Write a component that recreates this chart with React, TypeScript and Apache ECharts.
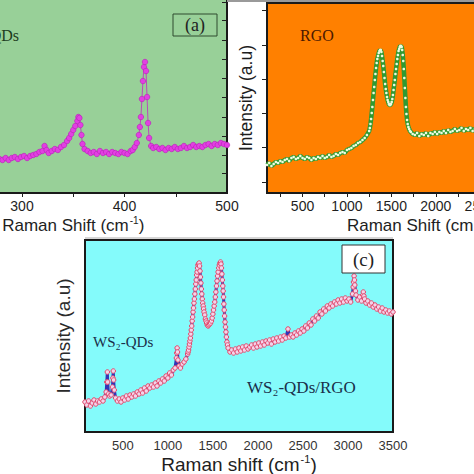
import React, { useEffect, useRef } from "react";
import * as echarts from "echarts";

// ---------- data (Raman shift in cm^-1, intensity in a.u.) ----------
const ws2QdsSpectrum: [number, number][] = [
  [272, 33], [275, 32], [278, 34], [281, 33], [284, 35], [287, 33], [290, 35], [293, 36], [296, 34], [299, 36],
  [302, 37], [305, 35], [308, 37], [311, 38], [314, 39], [317, 41], [320, 42], [322, 47], [324, 43], [326, 40],
  [329, 42], [332, 44], [335, 43], [338, 46], [341, 48], [344, 52], [346, 55], [348, 59], [350, 63], [352, 67],
  [354, 72], [355, 76], [356, 75], [357, 68], [358, 58], [359, 49], [361, 44], [364, 42], [367, 40], [370, 41],
  [373, 39], [376, 42], [379, 40], [382, 41], [385, 39], [388, 41], [391, 40], [394, 39], [397, 41], [400, 40],
  [403, 39], [406, 42], [408, 43], [410, 46], [412, 50], [414, 58], [415, 66], [416, 76], [417, 94], [418, 112],
  [419, 126], [420, 131], [421, 122], [422, 96], [423, 70], [424, 55], [426, 47], [428, 45], [431, 46], [434, 44],
  [437, 45], [440, 43], [443, 45], [446, 44], [449, 46], [452, 44], [455, 45], [458, 47], [461, 45], [464, 46],
  [467, 48], [470, 46], [473, 47], [476, 46], [479, 48], [482, 49], [485, 47], [488, 49], [491, 48], [494, 50],
  [497, 49], [500, 48],
];

const rgoSpectrum: [number, number][] = [
  [100, 28], [125, 30], [150, 27], [175, 29], [200, 31], [225, 30], [250, 32], [275, 31], [300, 33], [325, 34],
  [350, 32], [375, 35], [400, 36], [425, 34], [450, 35], [475, 37], [500, 35], [525, 34], [550, 36], [575, 35],
  [600, 33], [625, 35], [650, 34], [675, 36], [700, 35], [725, 37], [750, 35], [775, 36], [800, 38], [825, 36],
  [850, 37], [875, 39], [900, 38], [925, 40], [950, 41], [975, 40], [1000, 43], [1025, 44], [1050, 45], [1075, 47],
  [1100, 48], [1125, 50], [1150, 51], [1175, 53], [1200, 55], [1225, 58], [1250, 62], [1258, 65], [1265, 69], [1272, 74],
  [1279, 80], [1286, 86], [1293, 93], [1300, 100], [1307, 106], [1314, 113], [1321, 119], [1328, 125], [1335, 130], [1342, 134],
  [1350, 137], [1358, 140], [1366, 142], [1374, 143], [1381, 143], [1388, 141], [1395, 137], [1402, 132], [1409, 127], [1416, 121],
  [1423, 115], [1430, 109], [1437, 104], [1444, 100], [1451, 96], [1458, 93], [1465, 91], [1472, 89], [1480, 88], [1488, 88],
  [1496, 89], [1504, 91], [1511, 94], [1518, 98], [1525, 103], [1532, 108], [1539, 113], [1546, 119], [1553, 124], [1560, 129],
  [1567, 134], [1574, 138], [1581, 142], [1588, 144], [1595, 146], [1602, 147], [1609, 147], [1616, 146], [1622, 143], [1628, 138],
  [1634, 132], [1640, 124], [1646, 115], [1652, 105], [1658, 95], [1664, 86], [1670, 79], [1677, 73], [1684, 69], [1692, 66],
  [1700, 64], [1710, 62], [1720, 61], [1740, 59], [1765, 58], [1790, 60], [1815, 57],
  [1840, 59], [1865, 58], [1890, 60], [1915, 57], [1940, 60], [1965, 59], [1990, 61], [2015, 59], [2040, 61], [2065, 60],
  [2090, 62], [2115, 60], [2140, 63], [2165, 61], [2190, 62], [2215, 64], [2240, 62], [2265, 63], [2290, 65], [2315, 62],
  [2340, 64], [2365, 63], [2390, 65], [2415, 62], [2440, 64], [2465, 63], [2490, 65], [2515, 63], [2540, 64], [2600, 62],
  [2650, 65], [2700, 63], [2750, 64], [2800, 66], [2850, 64], [2900, 65], [2950, 63], [3000, 65], [3100, 64], [3200, 66],
  [3300, 64], [3400, 65], [3500, 64],
];

const compositeSpectrum: [number, number][] = [
  [80, 30], [100, 27], [120, 31], [140, 26], [160, 29], [180, 32], [200, 28], [220, 31], [240, 30], [260, 33],
  [280, 31], [300, 35], [315, 40], [322, 50], [328, 60], [332, 50], [340, 38], [355, 36], [370, 37], [385, 45],
  [390, 54], [394, 61], [398, 52], [405, 42], [420, 34], [440, 31], [460, 33], [480, 30], [500, 34], [520, 32],
  [540, 36], [560, 33], [580, 37], [600, 35], [620, 38], [640, 36], [660, 40], [680, 38], [700, 42], [720, 39],
  [740, 44], [760, 41], [780, 46], [800, 44], [820, 47], [840, 45], [860, 49], [880, 46], [900, 51], [920, 49],
  [940, 53], [960, 51], [980, 56], [1000, 54], [1020, 59], [1040, 57], [1060, 62], [1080, 64], [1095, 74], [1099, 79],
  [1103, 84], [1107, 80], [1112, 72], [1125, 66], [1140, 64], [1160, 68], [1180, 70], [1200, 73], [1220, 78], [1225, 80],
  [1230, 82], [1235, 85], [1240, 88], [1245, 91], [1250, 94], [1255, 98], [1260, 102], [1265, 106], [1270, 111], [1275, 115],
  [1280, 120], [1285, 124], [1290, 129], [1295, 133], [1300, 138], [1305, 143], [1310, 148], [1315, 152], [1320, 157], [1325, 160],
  [1330, 164], [1335, 167], [1340, 168], [1347, 169], [1352, 166], [1357, 161], [1362, 155], [1367, 149], [1372, 143], [1377, 138],
  [1382, 133], [1387, 129], [1392, 126], [1397, 123], [1402, 120], [1410, 117], [1417, 113], [1424, 111], [1431, 109], [1438, 107],
  [1447, 106], [1456, 107], [1465, 108], [1474, 109], [1484, 111], [1492, 114], [1500, 118], [1507, 122], [1514, 126], [1521, 130],
  [1527, 135], [1533, 140], [1540, 146], [1546, 151], [1552, 156], [1558, 160], [1565, 164], [1572, 167], [1579, 169], [1585, 170],
  [1590, 168], [1595, 164], [1600, 158], [1605, 152], [1610, 146], [1614, 141], [1618, 135], [1622, 128], [1626, 122], [1630, 116],
  [1635, 110], [1640, 105], [1645, 100], [1650, 95], [1656, 90], [1662, 87], [1669, 84], [1690, 80], [1710, 82], [1730, 79],
  [1750, 83], [1770, 80], [1790, 84], [1810, 81], [1830, 85], [1850, 82], [1870, 86], [1890, 83], [1910, 85], [1930, 87],
  [1950, 84], [1970, 88], [1990, 85], [2010, 89], [2030, 86], [2050, 90], [2070, 87], [2090, 91], [2110, 89], [2130, 92],
  [2150, 88], [2170, 93], [2190, 90], [2210, 94], [2230, 91], [2250, 95], [2270, 92], [2290, 96], [2310, 94], [2334, 103],
  [2350, 95], [2370, 97], [2390, 95], [2410, 99], [2430, 97], [2450, 101], [2470, 99], [2490, 103], [2510, 101], [2530, 106],
  [2550, 104], [2570, 109], [2590, 107], [2610, 113], [2630, 111], [2650, 116], [2670, 114], [2690, 120], [2710, 118], [2730, 123],
  [2750, 121], [2770, 126], [2790, 124], [2810, 128], [2830, 126], [2850, 130], [2870, 128], [2890, 132], [2910, 129], [2930, 133],
  [2950, 130], [2970, 134], [2990, 131], [3010, 133], [3030, 130], [3050, 138], [3058, 145], [3062, 150], [3068, 156], [3072, 152],
  [3076, 147], [3083, 141], [3090, 137], [3110, 132], [3130, 135], [3150, 131], [3165, 137], [3170, 140], [3177, 136], [3185, 133],
  [3200, 129], [3220, 131], [3240, 127], [3260, 129], [3280, 125], [3300, 127], [3320, 123], [3340, 125], [3360, 121], [3380, 124],
  [3400, 120], [3420, 122], [3440, 119], [3460, 121], [3480, 118], [3500, 120],
];

const ticksA = [250, 300, 350, 400, 450];
const labelsA = [300, 400, 500];
const ticksB = [250, 500, 750, 1000, 1250, 1500, 1750, 2000, 2250, 2500, 2750, 3000, 3250];
const labelsB = [500, 1000, 1500, 2000, 2500];
const labelsC = [500, 1000, 1500, 2000, 2500, 3000, 3500];
const yTicksA = [20, 38, 57, 76, 96, 115, 134, 153, 173, 191];
const yTicksB = [11, 46, 80, 114, 148, 183];

// ---------- layout ----------
const OX = 100;
const OY = 20;
const W = 700;
const H = 494;
const px = (x: number) => x + OX;
const py = (y: number) => y + OY;

const SANS = "Liberation Sans";
const SERIF = "Liberation Serif";
const INK = "#1e1e1e";
const plain = (v: number) => String(v);

const xName = (size: number, shift: string) => ({
  name: `{n|Raman ${shift} (cm}{s|-1}{n|)}`,
  nameLocation: "middle" as const,
  nameTextStyle: {
    rich: {
      n: { fontSize: size, fontFamily: SANS, color: INK, lineHeight: size + 2, verticalAlign: "bottom" },
      s: { fontSize: Math.round(size * 0.6), fontFamily: SANS, color: INK, lineHeight: size + 2, verticalAlign: "top", padding: [0, 0, 0, 1] },
    },
  },
});

function buildOption() {
  const grids = [
    { left: px(-80.5), top: py(-4), width: 307.5, height: 197, backgroundColor: "#98d098" },
    { left: px(267), top: py(3), width: 302, height: 190, backgroundColor: "#ff8000" },
    { left: px(85), top: py(240), width: 308, height: 192, backgroundColor: "#84fbfb" },
  ].map((g) => ({ ...g, show: true, borderColor: "#1a1a1a", borderWidth: 2, containLabel: false, outerBoundsMode: "none" }));

  const tickStyle = { color: INK, width: 1 };

  const xAxis = [
    {
      gridIndex: 0, type: "value", min: 200, max: 500,
      axisLine: { show: false }, splitLine: { show: false },
      axisTick: { show: true, inside: false, length: 4, customValues: ticksA, lineStyle: tickStyle },
      axisLabel: { customValues: labelsA, formatter: plain, margin: 6, fontSize: 14, fontFamily: SANS, color: INK },
      nameGap: 22, ...xName(17, "Shift"),
    },
    {
      gridIndex: 1, type: "value", min: 100, max: 3500,
      axisLine: { show: false }, splitLine: { show: false },
      axisTick: { show: true, inside: false, length: 4, customValues: ticksB, lineStyle: tickStyle },
      axisLabel: { customValues: labelsB, formatter: plain, margin: 6, fontSize: 14, fontFamily: SANS, color: INK },
      nameGap: 22, ...xName(17, "Shift"),
    },
    {
      gridIndex: 2, type: "value", min: 80, max: 3500,
      axisLine: { show: false }, splitLine: { show: false },
      axisTick: { show: false },
      axisLabel: { customValues: labelsC, formatter: plain, margin: 7, fontSize: 13, fontFamily: SANS, color: "#333" },
      nameGap: 21, ...xName(19, "shift"),
    },
  ];

  const yAxis = [
    {
      gridIndex: 0, type: "value", min: 0, max: 197, position: "right",
      axisLine: { show: false }, splitLine: { show: false }, axisLabel: { show: false },
      axisTick: { show: true, inside: true, length: 5, customValues: yTicksA, lineStyle: tickStyle },
    },
    {
      gridIndex: 1, type: "value", min: 0, max: 190, position: "left",
      axisLine: { show: false }, splitLine: { show: false }, axisLabel: { show: false },
      axisTick: { show: true, inside: false, length: 5, customValues: yTicksB, lineStyle: tickStyle },
      name: "Intensity (a.u)", nameLocation: "middle", nameGap: 12,
      nameTextStyle: { fontSize: 17.5, fontFamily: SANS, color: INK },
    },
    {
      gridIndex: 2, type: "value", min: 0, max: 192, position: "left",
      axisLine: { show: false }, splitLine: { show: false }, axisLabel: { show: false }, axisTick: { show: false },
      name: "Intensity (a.u)", nameLocation: "middle", nameGap: 12,
      nameTextStyle: { fontSize: 19, fontFamily: SANS, color: "#2a2a2a" },
    },
  ];

  const series = [
    {
      type: "line", xAxisIndex: 0, yAxisIndex: 0, data: ws2QdsSpectrum,
      symbol: "circle", symbolSize: 5.5, showAllSymbol: true,
      lineStyle: { color: "#b84cb8", width: 1 },
      itemStyle: { color: "#e23fe2", borderColor: "#b520b5", borderWidth: 0.6 },
    },
    {
      type: "line", xAxisIndex: 1, yAxisIndex: 1, data: rgoSpectrum,
      symbol: "circle", symbolSize: 2.6, showAllSymbol: true,
      lineStyle: { color: "#2f9a32", width: 4.5 },
      itemStyle: { color: "#eefbe0", borderWidth: 0 },
    },
    {
      type: "line", xAxisIndex: 2, yAxisIndex: 2, data: compositeSpectrum,
      symbol: "circle", symbolSize: 4.5, showAllSymbol: true,
      lineStyle: { color: "#3434b4", width: 3 },
      itemStyle: { color: "#f2d4ea", borderColor: "#e24a6c", borderWidth: 1 },
    },
  ];

  const txt = (text: string, x: number, y: number, size: number, fill: string, align = "left") => ({
    type: "text", x: px(x), y: py(y), z: 100,
    style: { text, font: `${size}px "${SERIF}"`, fill, align, verticalAlign: "middle", textAlign: align, textVerticalAlign: "middle" },
  });

  const graphic = [
    { type: "line", z: 100, shape: { x1: px(227), y1: py(1), x2: px(474), y2: py(1) }, style: { stroke: "#9a9a9a", lineWidth: 2 } },
    { type: "line", z: 100, shape: { x1: px(85), y1: py(238), x2: px(393), y2: py(238) }, style: { stroke: "#c8c8c8", lineWidth: 1.5 } },
    { type: "rect", z: 100, shape: { x: px(173), y: py(14), width: 44, height: 22 }, style: { fill: "#98d098", stroke: "#2f4a2f", lineWidth: 1 } },
    txt("(a)", 195, 25, 18, "#222", "center"),
    txt("WS₂-QDs", 19, 35, 16, "#1e3d1e", "right"),
    txt("RGO", 300, 35, 16, "#4a1800"),
    { type: "rect", z: 100, shape: { x: px(342), y: py(245), width: 43, height: 28 }, style: { fill: "#ffffff", stroke: "#333", lineWidth: 1 } },
    txt("(c)", 363.5, 259, 19, "#222", "center"),
    txt("WS₂-QDs", 93, 342, 15, "#1a2f4a"),
    txt("WS₂-QDs/RGO", 247, 387, 17, "#1a2f4a"),
  ];

  return {
    animation: false,
    backgroundColor: "#ffffff",
    textStyle: { fontFamily: SANS },
    grid: grids,
    xAxis,
    yAxis,
    series,
    graphic,
  };
}

export default function App() {
  const ref = useRef<HTMLDivElement>(null);
  useEffect(() => {
    if (!ref.current) return;
    const chart = echarts.init(ref.current, null, { renderer: "svg" });
    chart.setOption(buildOption() as any);
    return () => chart.dispose();
  }, []);
  return (
    <div style={{ position: "fixed", left: 0, top: 0, width: 474, height: 474, overflow: "hidden", background: "#fff" }}>
      <div ref={ref} style={{ position: "absolute", left: -OX, top: -OY, width: W, height: H }} />
    </div>
  );
}
